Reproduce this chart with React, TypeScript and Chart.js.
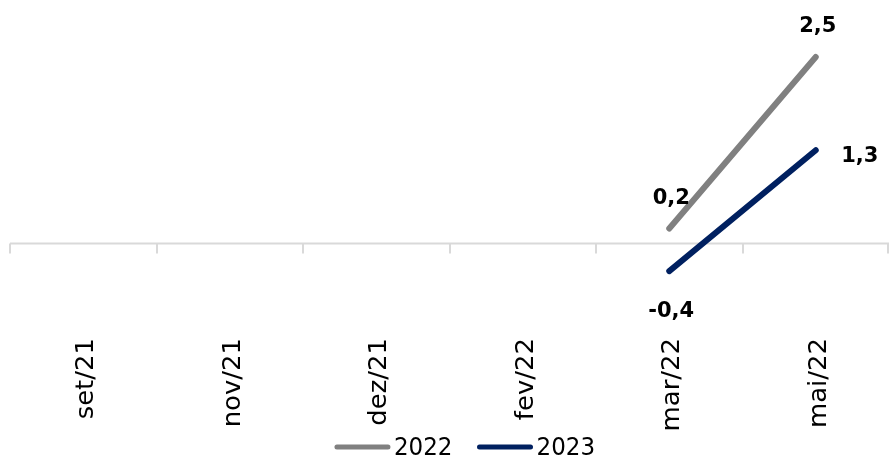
import React, { useEffect, useRef } from 'react';
import { Chart, registerables } from 'chart.js';

Chart.register(...registerables);

const categories = ['set/21', 'nov/21', 'dez/21', 'fev/22', 'mar/22', 'mai/22'];
const series2022: (number | null)[] = [null, null, null, null, 0.2, 2.5];
const series2023: (number | null)[] = [null, null, null, null, -0.37, 1.25];
const seriesNames = ['2022', '2023'];
const seriesColors = ['#808080', '#002060'];

const Y_MIN = -1.2;
const Y_MAX = 3.264;

const axisPlugin = {
  id: 'zeroAxis',
  beforeDatasetsDraw(chart: any) {
    const { ctx, scales } = chart;
    const x = scales.x;
    const y = scales.y;
    const y0 = y.getPixelForValue(0);
    const n = categories.length;
    const step = x.getPixelForValue(1) - x.getPixelForValue(0);
    const left = x.getPixelForValue(0) - step / 2;
    const right = x.getPixelForValue(n - 1) + step / 2;
    ctx.save();
    ctx.strokeStyle = '#d9d9d9';
    ctx.lineWidth = 2;
    ctx.beginPath();
    ctx.moveTo(left, y0);
    ctx.lineTo(right, y0);
    for (let i = 0; i <= n; i++) {
      const px = Math.round(left + i * step) - (i === n ? 1 : 0);
      ctx.moveTo(px, y0);
      ctx.lineTo(px, y0 + 10);
    }
    ctx.stroke();
    ctx.restore();
  },
  afterDraw(chart: any) {
    const { ctx, scales, chartArea } = chart;
    const x = scales.x;
    ctx.save();
    ctx.fillStyle = '#000';
    ctx.font = '24px "DejaVu Sans"';
    ctx.textAlign = 'right';
    ctx.textBaseline = 'middle';
    categories.forEach((c, i) => {
      const px = x.getPixelForValue(i);
      ctx.save();
      ctx.translate(px + 4, chartArea.bottom + 5);
      ctx.rotate(-Math.PI / 2);
      ctx.scale(1.08, 1);
      ctx.fillText(c, 0, 0);
      ctx.restore();
    });
    // legend
    ctx.font = '23px "DejaVu Sans"';
    ctx.textAlign = 'left';
    const lineW = 57;
    const gapText = 3;
    const gapItem = 24;
    const widths = seriesNames.map((s) => lineW + gapText + ctx.measureText(s).width);
    const total = widths.reduce((a, b) => a + b, 0) + gapItem * (seriesNames.length - 1);
    let cx = chart.width / 2 + 20 - total / 2;
    const ly = chart.height - 11;
    seriesNames.forEach((s, i) => {
      ctx.strokeStyle = seriesColors[i];
      ctx.lineWidth = 5;
      ctx.lineCap = 'round';
      ctx.beginPath();
      ctx.moveTo(cx + 3, ly);
      ctx.lineTo(cx + lineW - 3, ly);
      ctx.stroke();
      ctx.fillStyle = '#000';
      ctx.save();
      ctx.translate(cx + lineW + gapText, ly + 1);
      ctx.scale(1, 1.1);
      ctx.fillText(s, 0, 0);
      ctx.restore();
      cx += widths[i] + gapItem;
    });
    ctx.restore();
  },
};

const fmt = (v: number) => v.toFixed(1).replace('.', ',');

const labelPlugin = {
  id: 'valueLabels',
  afterDatasetsDraw(chart: any) {
    const { ctx } = chart;
    ctx.save();
    ctx.font = 'bold 21px "DejaVu Sans"';
    ctx.fillStyle = '#000';
    ctx.textAlign = 'center';
    ctx.textBaseline = 'middle';
    chart.data.datasets.forEach((ds: any, di: number) => {
      const meta = chart.getDatasetMeta(di);
      ds.data.forEach((v: number | null, i: number) => {
        if (v === null || v === undefined) return;
        const pt = meta.data[i];
        let dx = 0;
        let dy = 0;
        if (di === 0) {
          dy = -30;
          dx = 2;
        } else if (v < 0) {
          dy = 40;
          dx = 2;
        } else {
          dx = 44;
          dy = 6;
        }
        ctx.fillText(fmt(v), pt.x + dx, pt.y + dy);
      });
    });
    ctx.restore();
  },
};

export default function App() {
  const ref = useRef<HTMLCanvasElement | null>(null);
  useEffect(() => {
    if (!ref.current) return;
    const chart = new Chart(ref.current, {
      type: 'line',
      data: {
        labels: categories,
        datasets: [series2022, series2023].map((d, i) => ({
          label: seriesNames[i],
          data: d,
          borderColor: seriesColors[i],
          backgroundColor: seriesColors[i],
          borderWidth: 6,
          borderCapStyle: 'round',
          pointRadius: 0,
          fill: false,
          tension: 0,
        })),
      },
      options: {
        animation: false,
        responsive: false,
        maintainAspectRatio: false,
        layout: { padding: { left: 10, right: 0, top: 0, bottom: 0 } },
        scales: {
          x: {
            type: 'category',
            offset: true,
            grid: { display: false },
            border: { display: false },
            ticks: { display: false },
            afterFit: (scale: any) => {
              scale.height = 125;
            },
          },
          y: { display: false, min: Y_MIN, max: Y_MAX },
        },
        plugins: {
          tooltip: { enabled: false },
          legend: { display: false },
        },
      } as any,
      plugins: [axisPlugin, labelPlugin],
    });
    return () => chart.destroy();
  }, []);
  return (
    <div style={{ position: 'absolute', left: 0, top: 0, width: 889, height: 458, background: '#fff' }}>
      <canvas ref={ref} width={889} height={458} style={{ display: 'block' }} />
    </div>
  );
}
